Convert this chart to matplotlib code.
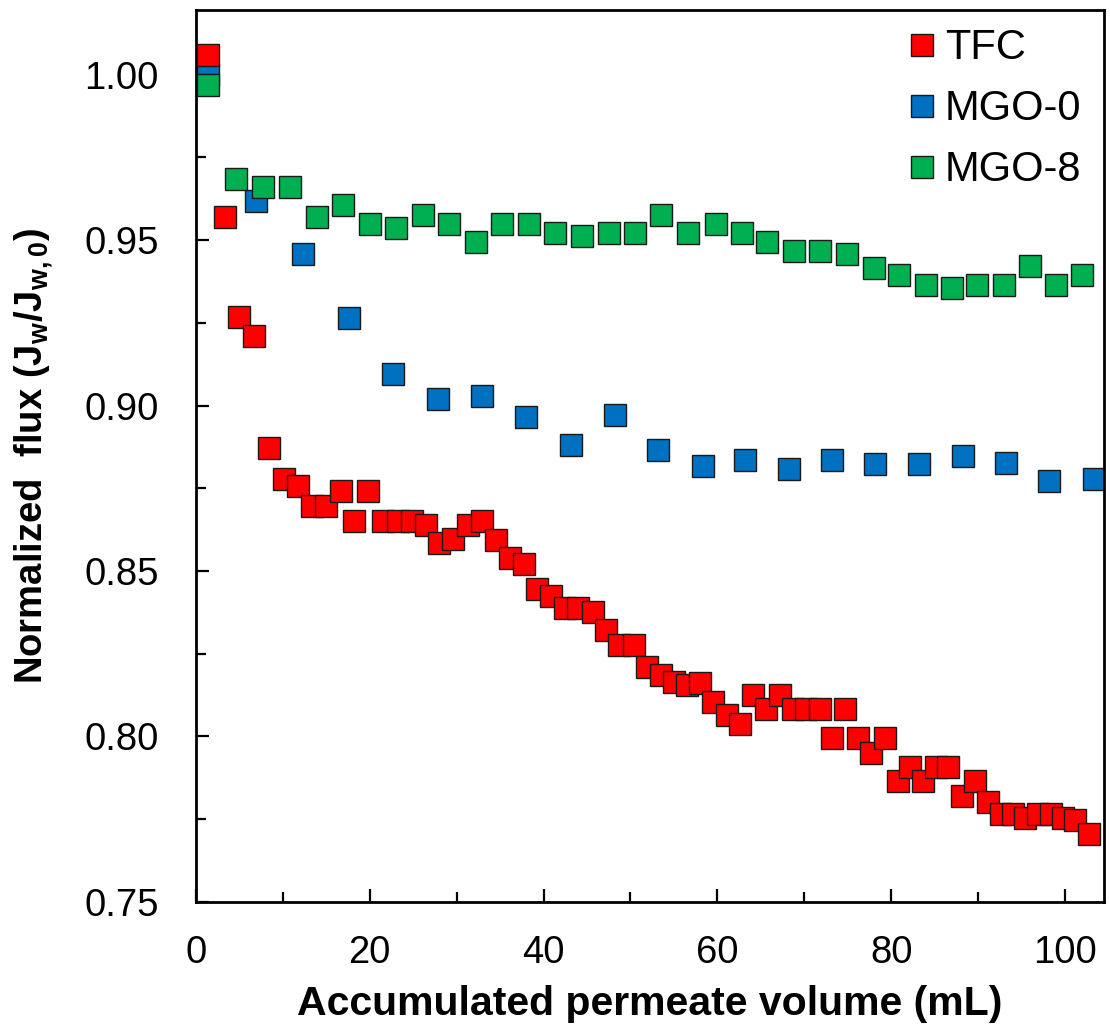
import matplotlib
matplotlib.use("Agg")
import matplotlib.pyplot as plt
from matplotlib.ticker import MultipleLocator, FormatStrFormatter

plt.rcParams['font.family'] = ['Liberation Sans', 'DejaVu Sans']
plt.rcParams['mathtext.fontset'] = 'custom'
plt.rcParams['mathtext.rm'] = 'Liberation Sans:bold'
plt.rcParams['mathtext.it'] = 'Liberation Sans:bold'
plt.rcParams['mathtext.bf'] = 'Liberation Sans:bold'

# Accumulated permeate volume (mL) and normalized flux for each membrane
tfc_x = [1.4, 3.3, 5.0, 6.7, 8.4, 10.1, 11.7, 13.4, 15.0, 16.7, 18.2, 19.85,
         21.5, 23.2, 24.8, 26.5, 28.0, 29.6, 31.3, 32.9, 34.5, 36.1, 37.8,
         39.3, 40.8, 42.5, 44.0, 45.7, 47.2, 48.7, 50.4, 51.9, 53.5, 55.0,
         56.5, 58.0, 59.5, 61.1, 62.6, 64.1, 65.6, 67.2, 68.7, 70.2, 71.8,
         73.2, 74.7, 76.2, 77.7, 79.3, 80.8, 82.2, 83.7, 85.2, 86.6, 88.2,
         89.6, 91.1, 92.6, 94.0, 95.4, 96.9, 98.4, 99.8, 101.2, 102.8]
tfc_y = [1.0058, 0.9569, 0.9268, 0.9210, 0.8871, 0.8777, 0.8757, 0.8696,
         0.8696, 0.8741, 0.8650, 0.8741, 0.8650, 0.8650, 0.8650, 0.8640,
         0.8584, 0.8597, 0.8640, 0.8650, 0.8594, 0.8540, 0.8520, 0.8447,
         0.8424, 0.8389, 0.8389, 0.8376, 0.8322, 0.8276, 0.8276, 0.8209,
         0.8186, 0.8166, 0.8156, 0.8163, 0.8105, 0.8066, 0.8039, 0.8125,
         0.8082, 0.8125, 0.8082, 0.8082, 0.8082, 0.7995, 0.8082, 0.7995,
         0.7951, 0.7995, 0.7865, 0.7908, 0.7865, 0.7908, 0.7908, 0.7821,
         0.7865, 0.7801, 0.7765, 0.7765, 0.7755, 0.7765, 0.7765, 0.7755,
         0.7748, 0.7705]

mgo0_x = [1.4, 6.9, 12.35, 17.6, 22.7, 27.8, 32.9, 38.0, 43.1, 48.2, 53.2,
          58.3, 63.2, 68.2, 73.2, 78.2, 83.2, 88.3, 93.2, 98.2, 103.3]
mgo0_y = [1.000, 0.9619, 0.9458, 0.9264, 0.9095, 0.9021, 0.9028, 0.8964,
          0.8881, 0.8971, 0.8867, 0.8817, 0.8834, 0.8807, 0.8834, 0.8824,
          0.8824, 0.8847, 0.8827, 0.8771, 0.8777]

mgo8_x = [1.4, 4.6, 7.66, 10.8, 13.9, 16.9, 20.0, 23.0, 26.1, 29.1, 32.2,
          35.2, 38.3, 41.3, 44.4, 47.5, 50.5, 53.5, 56.6, 59.8, 62.8, 65.7,
          68.8, 71.8, 74.9, 78.0, 80.9, 84.0, 87.0, 89.9, 93.0, 96.0, 99.0,
          102.0]
mgo8_y = [0.9967, 0.9685, 0.9659, 0.9659, 0.9569, 0.9606, 0.9548, 0.9535,
          0.9576, 0.9548, 0.9495, 0.9549, 0.9549, 0.9522, 0.9512, 0.9522,
          0.9522, 0.9575, 0.9522, 0.9549, 0.9522, 0.9495, 0.9468, 0.9468,
          0.9458, 0.9415, 0.9395, 0.9365, 0.9354, 0.9365, 0.9365, 0.9421,
          0.9365, 0.9395]

labels = ['TFC', 'MGO-0', 'MGO-8']
colors = ['#FF0000', '#0070C0', '#00B050']

fig = plt.figure(figsize=(11.10, 10.32), dpi=100)
ax = fig.add_axes([0.1766, 0.1260, 0.8180, 0.8643])

mk = dict(marker='s', linestyle='none', markersize=16.3,
          markeredgecolor='#1a1a1a', markeredgewidth=1.0)
h_blue, = ax.plot(mgo0_x, mgo0_y, color=colors[1], zorder=2, **mk)
h_red, = ax.plot(tfc_x, tfc_y, color=colors[0], zorder=3, **mk)
h_green, = ax.plot(mgo8_x, mgo8_y, color=colors[2], zorder=3, **mk)

ax.set_xlim(0, 104.5)
ax.set_ylim(0.75, 1.0195)

ax.xaxis.set_major_locator(MultipleLocator(20))
ax.xaxis.set_minor_locator(MultipleLocator(10))
ax.yaxis.set_major_locator(MultipleLocator(0.05))
ax.yaxis.set_minor_locator(MultipleLocator(0.025))
ax.yaxis.set_major_formatter(FormatStrFormatter('%.2f'))

for s in ax.spines.values():
    s.set_linewidth(2.0)
ax.tick_params(which='both', direction='in', top=False, right=False, width=1.6)
ax.tick_params(which='major', length=9.5)
ax.tick_params(which='minor', length=7)
ax.tick_params(axis='y', which='major', labelsize=27.5, pad=27)
ax.tick_params(axis='x', which='major', labelsize=27.5, pad=24)

ax.set_xlabel('Accumulated permeate volume (mL)', fontsize=29.5,
              fontweight='bold', labelpad=10)
ax.set_ylabel(r'Normalized  flux (J$_\mathregular{w}$/J$_\mathregular{w,0}$)',
              fontsize=27.5, fontweight='bold', labelpad=20)

ax.legend([h_red, h_blue, h_green], labels, loc='upper right',
          bbox_to_anchor=(1.007, 1.012), frameon=False, fontsize=30,
          handlelength=0.6, handletextpad=0.25, labelspacing=0.5,
          borderaxespad=0.3, markerscale=1.0)

fig.savefig('out.png', dpi=100)
